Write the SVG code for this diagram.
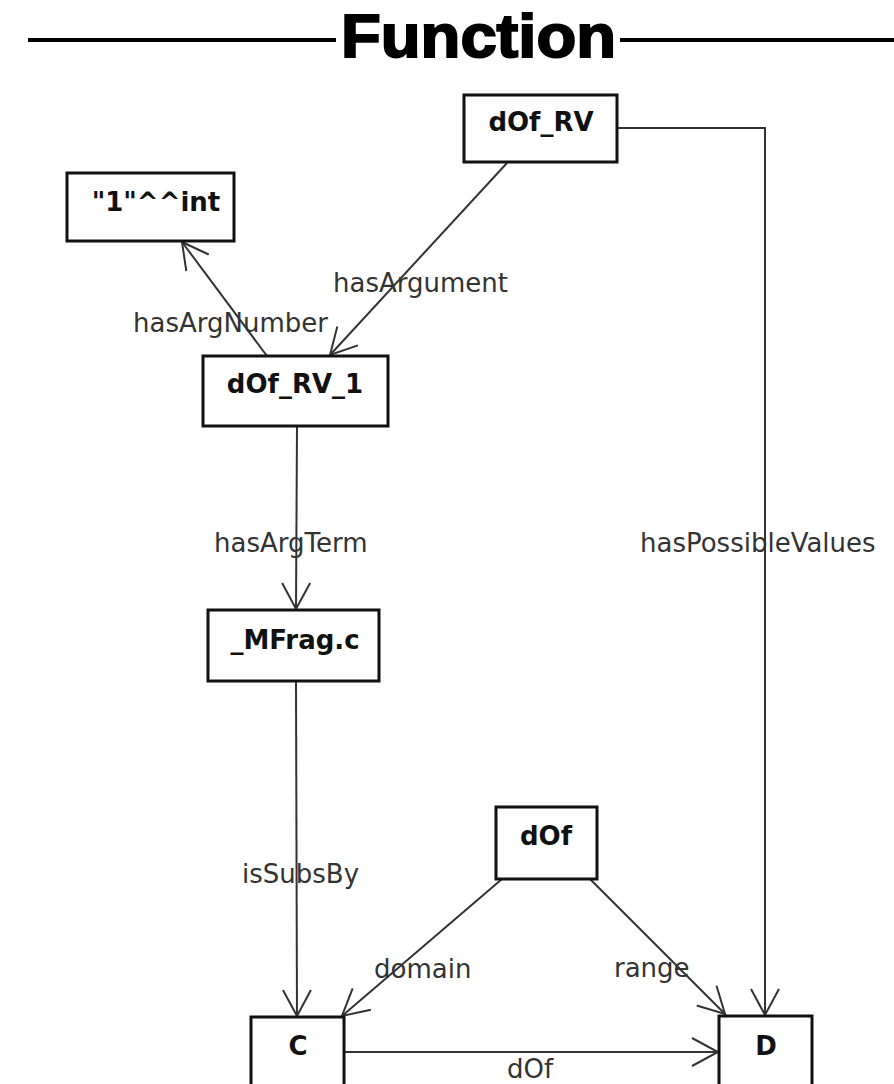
<svg xmlns="http://www.w3.org/2000/svg" width="894" height="1084" viewBox="0 0 894 1084">
<style>
.node rect{fill:#fff;stroke:#111;stroke-width:3}
.node text{font-family:"DejaVu Sans",sans-serif;font-weight:bold;font-size:26px;fill:#111;text-anchor:middle}
.edge{fill:none;stroke:#333;stroke-width:2}
.lbl{font-family:"DejaVu Sans",sans-serif;font-size:26px;fill:#333}
</style>
<defs>
<marker id="arr" markerUnits="userSpaceOnUse" viewBox="-30 -17 32 34" markerWidth="32" markerHeight="34" refX="0" refY="0" orient="auto" overflow="visible">
<path d="M-26,-14 L0,0 L-26,14" fill="none" stroke="#333" stroke-width="2"/>
</marker>
</defs>
<rect width="894" height="1084" fill="#fff"/>
<g id="title">
<line x1="28" y1="40" x2="336" y2="40" stroke="#000" stroke-width="4"/>
<line x1="620" y1="40" x2="894" y2="40" stroke="#000" stroke-width="4"/>
<text x="341" y="57" font-family="Liberation Sans, sans-serif" font-weight="bold" font-size="62" textLength="275" lengthAdjust="spacingAndGlyphs" fill="#000" stroke="#000" stroke-width="2">Function</text>
</g>
<g id="connectors">
<polyline class="edge" points="617,128 765,128 765,1015" marker-end="url(#arr)"/>
<line class="edge" x1="507" y1="163" x2="330" y2="355" marker-end="url(#arr)"/>
<line class="edge" x1="267" y1="356" x2="182" y2="242" marker-end="url(#arr)"/>
<line class="edge" x1="297" y1="426" x2="296" y2="609" marker-end="url(#arr)"/>
<line class="edge" x1="296" y1="681" x2="297" y2="1016" marker-end="url(#arr)"/>
<line class="edge" x1="502" y1="879" x2="342" y2="1016" marker-end="url(#arr)"/>
<line class="edge" x1="590" y1="879" x2="725" y2="1014" marker-end="url(#arr)"/>
<line class="edge" x1="344" y1="1052" x2="718" y2="1052" marker-end="url(#arr)"/>
<text class="lbl" x="640" y="552">hasPossibleValues</text>
<text class="lbl" x="333" y="292">hasArgument</text>
<text class="lbl" x="133" y="332">hasArgNumber</text>
<text class="lbl" x="214" y="552">hasArgTerm</text>
<text class="lbl" x="242" y="883">isSubsBy</text>
<text class="lbl" x="374" y="978">domain</text>
<text class="lbl" x="614" y="977">range</text>
<text class="lbl" x="507" y="1078">dOf</text>
</g>
<g id="node-dOf_RV" class="node"><rect x="464" y="95" width="153" height="67"/><text x="541" y="131">dOf_RV</text></g>
<g id="node-int" class="node"><rect x="67" y="173" width="167" height="68"/><text x="156" y="211">"1"^^int</text></g>
<g id="node-dOf_RV_1" class="node"><rect x="203" y="356" width="185" height="70"/><text x="295" y="393">dOf_RV_1</text></g>
<g id="node-MFrag" class="node"><rect x="208" y="610" width="171" height="71"/><text x="295" y="649">_MFrag.c</text></g>
<g id="node-dOf" class="node"><rect x="496" y="807" width="101" height="72"/><text x="546" y="845">dOf</text></g>
<g id="node-C" class="node"><rect x="251" y="1017" width="93" height="80"/><text x="298" y="1055">C</text></g>
<g id="node-D" class="node"><rect x="719" y="1016" width="93" height="80"/><text x="766" y="1055">D</text></g>
</svg>
